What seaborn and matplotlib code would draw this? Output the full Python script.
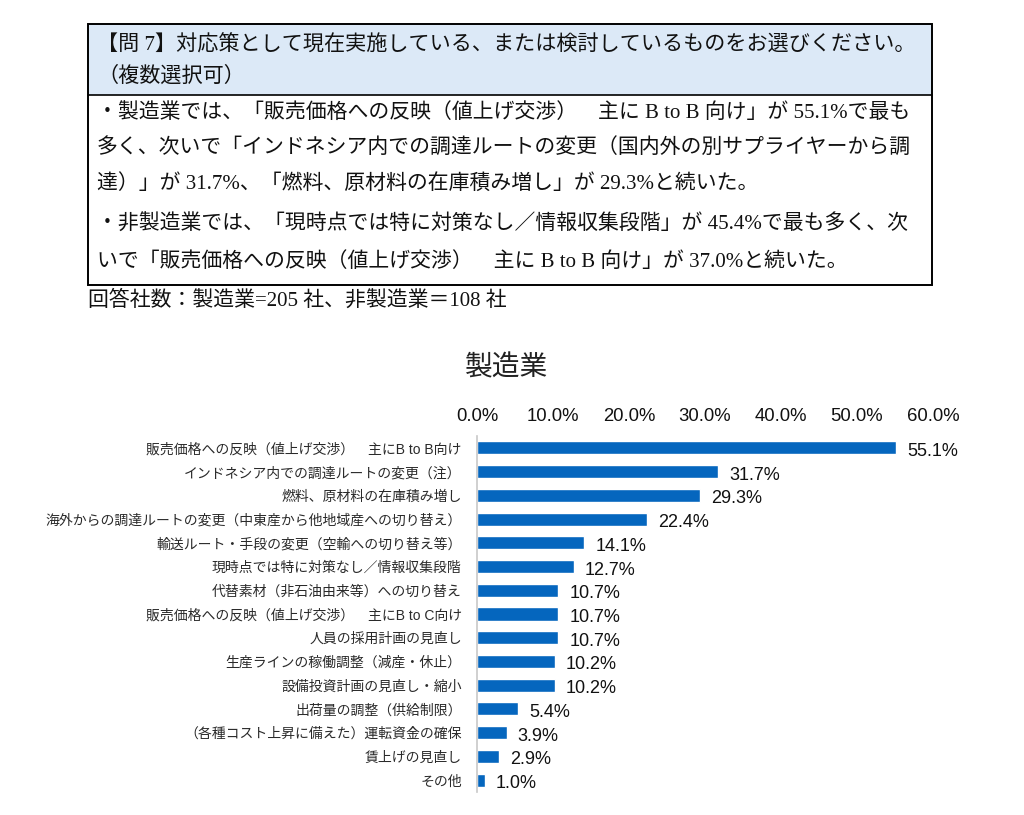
import matplotlib
matplotlib.use("Agg")
import matplotlib.pyplot as plt
from matplotlib.patches import Rectangle
from matplotlib.lines import Line2D
import seaborn as sns
import pandas as pd

# 製造業の回答（%）
categories = [
    "販売価格への反映（値上げ交渉）　主にB to B向け",
    "インドネシア内での調達ルートの変更（注）",
    "燃料、原材料の在庫積み増し",
    "海外からの調達ルートの変更（中東産から他地域産への切り替え）",
    "輸送ルート・手段の変更（空輸への切り替え等）",
    "現時点では特に対策なし／情報収集段階",
    "代替素材（非石油由来等）への切り替え",
    "販売価格への反映（値上げ交渉）　主にB to C向け",
    "人員の採用計画の見直し",
    "生産ラインの稼働調整（減産・休止）",
    "設備投資計画の見直し・縮小",
    "出荷量の調整（供給制限）",
    "（各種コスト上昇に備えた）運転資金の確保",
    "賃上げの見直し",
    "その他",
]
values = [55.1, 31.7, 29.3, 22.4, 14.1, 12.7, 10.7, 10.7, 10.7, 10.2, 10.2, 5.4, 3.9, 2.9, 1.0]
x_ticks = [0, 10, 20, 30, 40, 50, 60]

header_lines = [
    "【問 7】対応策として現在実施している、または検討しているものをお選びください。",
    "（複数選択可）",
]
body_lines = [
    "・製造業では、「販売価格への反映（値上げ交渉）　主に B to B 向け」が 55.1%で最も",
    "多く、次いで「インドネシア内での調達ルートの変更（国内外の別サプライヤーから調",
    "達）」が 31.7%、「燃料、原材料の在庫積み増し」が 29.3%と続いた。",
    "・非製造業では、「現時点では特に対策なし／情報収集段階」が 45.4%で最も多く、次",
    "いで「販売価格への反映（値上げ交渉）　主に B to B 向け」が 37.0%と続いた。",
]
note = "回答社数：製造業=205 社、非製造業＝108 社"
title = "製造業"

sns.set_theme(style="white")
plt.rcParams["font.family"] = ["Liberation Sans", "Noto Sans CJK JP", "DejaVu Sans"]
box_font = ["Liberation Serif", "Noto Sans CJK JP", "DejaVu Sans"]

W, H = 1024, 815
fig = plt.figure(figsize=(W / 100, H / 100), dpi=100)


def fx(px):
    return px / W


def fy(py):
    return 1 - py / H


# 上の設問ボックス
fig.add_artist(Rectangle((fx(88), fy(95)), fx(932) - fx(88), fy(24) - fy(95),
                         transform=fig.transFigure, facecolor="#DCE9F7",
                         edgecolor="none", zorder=0))
fig.add_artist(Rectangle((fx(88), fy(285)), fx(932) - fx(88), fy(24) - fy(285),
                         transform=fig.transFigure, facecolor="none",
                         edgecolor="black", linewidth=1.4, zorder=2))
fig.add_artist(Line2D([fx(88), fx(932)], [fy(95), fy(95)],
                      transform=fig.transFigure, color="black", linewidth=1.2))

for i, line in enumerate(header_lines):
    fig.text(fx(97), fy(45 + i * 32), line, fontsize=15.2, family=box_font,
             va="center", ha="left", color="#111111")
for line, py in zip(body_lines, [113, 148, 184, 225, 262]):
    fig.text(fx(97), fy(py), line, fontsize=15, family=box_font,
             va="center", ha="left", color="#111111")
fig.text(fx(88), fy(301), note, fontsize=15, family=box_font,
         va="center", ha="left", color="#111111")

fig.text(fx(507), fy(367), title, fontsize=20, ha="center", va="center",
         family=["Noto Sans CJK JP"], color="#222222")

# 棒グラフ
ax = fig.add_axes([fx(477), fy(792), fx(933) - fx(477), fy(436) - fy(792)])
df = pd.DataFrame({"category": categories, "value": values})
sns.barplot(data=df, x="value", y="category", orient="h", color="#0566BE",
            width=0.55, saturation=1, ax=ax)

ax.set_xlim(0, 60)
ax.set_ylim(len(categories) - 0.5, -0.5)
ax.set_xticks(x_ticks)
ax.set_xticklabels([f"{t:.1f}%" for t in x_ticks], fontsize=13.3)
ax.xaxis.tick_top()
ax.tick_params(axis="x", length=0, pad=8, colors="#111111")
ax.tick_params(axis="y", length=0, pad=11, labelsize=10, colors="#2a2a2a")
ax.set_xlabel("")
ax.set_ylabel("")
for side in ["top", "right", "bottom"]:
    ax.spines[side].set_visible(False)
ax.spines["left"].set_color("#C8C8C8")
ax.spines["left"].set_linewidth(1.2)
ax.grid(False)

labels = ax.bar_label(ax.containers[0], labels=[f"{v:.1f}%" for v in values],
                      padding=8, fontsize=13, color="#111111")
for lab in labels:
    lab.xyann = (8, -2.5)

fig.savefig("out.png", dpi=100, facecolor="white")
